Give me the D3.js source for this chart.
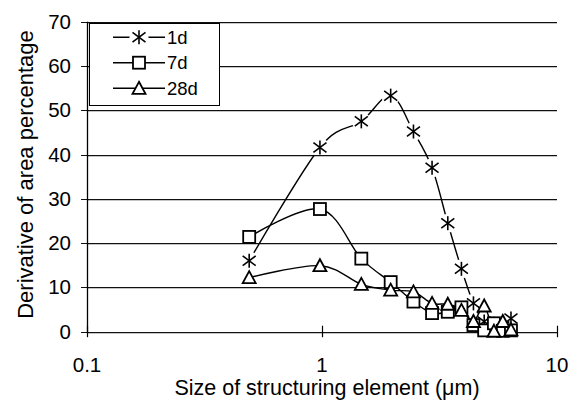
<!DOCTYPE html>
<html><head><meta charset="utf-8">
<script src="https://cdn.jsdelivr.net/npm/d3@7"></script>
<style>body{margin:0;background:#fff}svg{display:block}text{font-family:Arial,"Liberation Sans",sans-serif;fill:#000}</style>
</head><body>
<script>
const sizes = [0.49,0.98,1.47,1.96,2.45,2.94,3.43,3.92,4.41,4.9,5.39,5.88,6.37];
const d1  = [16.0,41.6,47.5,53.3,45.2,37.0,24.5,14.2,6.4,2.3,1.8,1.2,3.0];
const d7  = [21.4,27.7,16.5,11.2,6.8,4.2,4.5,5.5,1.5,0.3,1.9,0.2,0.3];
const d28 = [12.2,14.9,10.7,9.4,9.0,6.4,6.2,4.8,2.3,5.8,0.1,2.3,0.4];
const seriesNames = ["1d","7d","28d"];
const yTicks = [0,10,20,30,40,50,60,70];
const xTicks = [0.1,1,10];
const xTitle = "Size of structuring element (\u03bcm)";
const yTitle = "Derivative of area percentage";

const W=584,H=400;
const L=87,R=557,T=21.7,B=331.7;
const svg=d3.select("body").append("svg").attr("width",W).attr("height",H);
const x=d3.scaleLog().domain([0.1,10]).range([L,R]);
const y=d3.scaleLinear().domain([0,70]).range([B,T]);

function txt(g,str,px,py,anchor,fs){
  return g.append("text").attr("x",px).attr("y",py).attr("text-anchor",anchor).attr("font-size",fs).text(str);
}
// gridlines
const grid=svg.append("g");
yTicks.forEach(v=>{
  const yy=Math.round(y(v));
  grid.append("line").attr("x1",L-6).attr("x2",R).attr("y1",yy+0.5).attr("y2",yy+0.5).attr("stroke","#111").attr("stroke-width",1.1);
  grid.append("line").attr("x1",L).attr("x2",R).attr("y1",yy+1.5).attr("y2",yy+1.5).attr("stroke","#c4c4c4").attr("stroke-width",1);
  txt(svg,String(v),71,y(v)+7,"end",20.5);
});
// y axis
svg.append("line").attr("x1",L+0.5).attr("x2",L+0.5).attr("y1",T).attr("y2",B+1).attr("stroke","#000").attr("stroke-width",1.3);
// x ticks
xTicks.forEach(v=>{
  svg.append("line").attr("x1",Math.round(x(v))+0.5).attr("x2",Math.round(x(v))+0.5).attr("y1",B-6).attr("y2",B+5.5).attr("stroke","#000").attr("stroke-width",1.2);
  txt(svg,String(v),x(v),371.5,"middle",20.5);
});
txt(svg,xTitle,327,394.5,"middle",21.5);
svg.append("text").attr("transform","translate(33.3,174.5) rotate(-90)").attr("text-anchor","middle").attr("font-size",22).text(yTitle);

const line=d3.line().x(d=>x(d[0])).y(d=>y(d[1])).curve(d3.curveCardinal.tension(0));
const pts=arr=>sizes.map((s,i)=>[s,arr[i]]);

// mask for 1d line gaps around its markers
const defs=svg.append("defs");
const m=defs.append("mask").attr("id","gap").attr("maskUnits","userSpaceOnUse").attr("x",0).attr("y",0).attr("width",W).attr("height",H);
m.append("rect").attr("width",W).attr("height",H).attr("fill","#fff");
pts(d1).forEach(p=>m.append("circle").attr("cx",x(p[0])).attr("cy",y(p[1])).attr("r",9.5).attr("fill","#000"));
m.append("circle").attr("cx",139).attr("cy",37.3).attr("r",9.5).attr("fill","#000");

const lines=svg.append("g").attr("fill","none").attr("stroke","#000").attr("stroke-width",1.4);
lines.append("path").attr("d",line(pts(d1))).attr("mask","url(#gap)");
lines.append("path").attr("d",line(pts(d7)));
lines.append("path").attr("d",line(pts(d28)));

function star(g,cx,cy){
  const s=6.5,h=7;
  const gg=g.append("g").attr("stroke","#000").attr("stroke-width",1.6);
  gg.append("line").attr("x1",cx).attr("x2",cx).attr("y1",cy-h).attr("y2",cy+h);
  gg.append("line").attr("x1",cx-s).attr("x2",cx+s).attr("y1",cy-s*0.75).attr("y2",cy+s*0.75);
  gg.append("line").attr("x1",cx-s).attr("x2",cx+s).attr("y1",cy+s*0.75).attr("y2",cy-s*0.75);
}
function square(g,cx,cy){
  g.append("rect").attr("x",cx-6).attr("y",cy-6).attr("width",12).attr("height",12).attr("fill","#fff").attr("stroke","#000").attr("stroke-width",1.8);
}
function tri(g,cx,cy){
  g.append("path").attr("d",`M${cx},${cy-6.5}L${cx+6.5},${cy+5.5}L${cx-6.5},${cy+5.5}Z`).attr("fill","#fff").attr("stroke","#000").attr("stroke-width",1.8);
}
const mk=svg.append("g");
pts(d1).forEach(p=>star(mk,x(p[0]),y(p[1])));
pts(d7).forEach(p=>square(mk,x(p[0]),y(p[1])));
pts(d28).forEach(p=>tri(mk,x(p[0]),y(p[1])));

// legend
const lg=svg.append("g");
lg.append("rect").attr("x",89.5).attr("y",23.5).attr("width",130).attr("height",82).attr("fill","#fff").attr("stroke","#000").attr("stroke-width",1);
const rows=[37.3,62.7,88.3], fns=[star,square,tri];
rows.forEach((ry,i)=>{
  const l=lg.append("line").attr("x1",113).attr("x2",165).attr("y1",ry).attr("y2",ry).attr("stroke","#000").attr("stroke-width",1.4);
  if(i===0) l.attr("mask","url(#gap)");
  fns[i](lg,139,ry);
  txt(lg,seriesNames[i],167,ry+6.5,"start",18.5);
});
</script>
</body></html>
